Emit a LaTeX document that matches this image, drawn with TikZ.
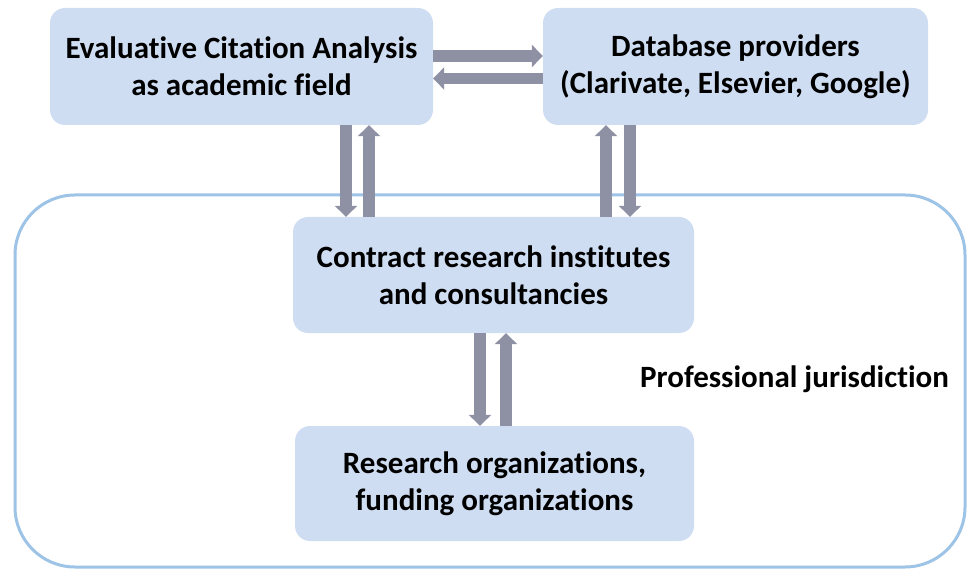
\documentclass[tikz,border=0pt]{standalone}
\usepackage{fontspec}
\setmainfont{Carlito}[Ligatures=NoCommon]
\usetikzlibrary{arrows.meta}
\definecolor{boxfill}{HTML}{CFDDF2}
\definecolor{frameblue}{HTML}{9DC3E6}
\definecolor{arrowgray}{HTML}{8E90A4}
\tikzset{
  box/.style={fill=boxfill, draw=none, rounded corners=15pt, align=center,
    font=\bfseries\fontsize{31pt}{37pt}\selectfont, inner sep=0pt},
  barrow/.style={draw=arrowgray, line width=11.5pt,
    -{Triangle[width=22pt,length=11pt]}},
  lbl/.style={font=\bfseries\fontsize{31pt}{37pt}\selectfont, inner sep=0pt}
}
\begin{document}
\begin{tikzpicture}[x=1pt,y=-1pt]
\useasboundingbox (0,0) rectangle (969,569);
\draw[frameblue, line width=3pt, rounded corners=60pt] (15,567) -- (15,195) -- (965,195) -- (965,567) -- cycle;
\node[box, minimum width=383pt, minimum height=117pt] (b1) at (241.5,66.5) {Evaluative Citation Analysis\\as academic field};
\node[box, minimum width=385pt, minimum height=117pt] (b2) at (735.5,66.5) {Database providers\\(Clarivate, Elsevier, Google)};
\node[box, minimum width=401pt, minimum height=116pt] (b3) at (493.5,275) {Contract research institutes\\and consultancies};
\node[box, minimum width=399pt, minimum height=115pt] (b4) at (494.5,483.5) {Research organizations,\\funding organizations};
\node[lbl, anchor=west] (pj) at (640,379) {Professional jurisdiction};
\coordinate (ya) at (0,56);
\coordinate (yb) at (0,78.5);
\coordinate (xa) at (346,0);
\coordinate (xb) at (369,0);
\coordinate (xc) at (606,0);
\coordinate (xd) at (630,0);
\coordinate (xe) at (480,0);
\coordinate (xf) at (506,0);
\draw[barrow] (b1.east |- ya) -- (b2.west |- ya);
\draw[barrow] (b2.west |- yb) -- (b1.east |- yb);
\draw[barrow] (b1.south -| xa) -- (b3.north -| xa);
\draw[barrow] (b3.north -| xb) -- (b1.south -| xb);
\draw[barrow] (b3.north -| xc) -- (b2.south -| xc);
\draw[barrow] (b2.south -| xd) -- (b3.north -| xd);
\draw[barrow] (b3.south -| xe) -- (b4.north -| xe);
\draw[barrow] (b4.north -| xf) -- (b3.south -| xf);
\end{tikzpicture}
\end{document}
